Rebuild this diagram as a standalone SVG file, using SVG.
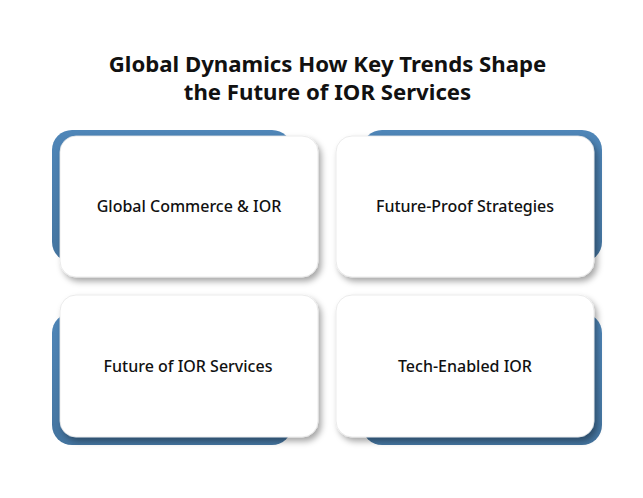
<svg xmlns="http://www.w3.org/2000/svg" width="643" height="498" viewBox="0 0 643 498">
<defs>
<filter id="sh" x="-10%" y="-10%" width="125%" height="130%">
<feDropShadow dx="3" dy="4" stdDeviation="3" flood-color="#000" flood-opacity="0.35"/>
</filter>
<linearGradient id="bl" x1="0" y1="0" x2="0" y2="1">
<stop offset="0" stop-color="#4f86b8"/>
<stop offset="1" stop-color="#44749f"/>
</linearGradient>
</defs>
<style>
.back{fill:url(#bl);}
.card{fill:#ffffff;stroke:#e6e6e6;stroke-width:0.8;filter:url(#sh);}
.lbl{font-family:"Noto Sans","Open Sans","Liberation Sans",sans-serif;font-weight:500;font-size:16px;fill:#111;text-anchor:middle;}
.title{font-family:"Noto Sans","Open Sans","Liberation Sans",sans-serif;font-weight:700;font-size:22.2px;fill:#111;text-anchor:middle;}
</style>
<rect width="643" height="498" fill="#ffffff"/>
<g id="title">
<text class="title" x="327.5" y="72">Global Dynamics How Key Trends Shape</text>
<text class="title" x="327.5" y="100">the Future of IOR Services</text>
</g>
<g id="node1">
<rect class="back" x="52" y="130" width="240" height="132" rx="20"/>
<rect class="card" x="60" y="136" width="258" height="141" rx="16"/>
<text class="lbl" x="189" y="212">Global Commerce &amp; IOR</text>
</g>
<g id="node2">
<rect class="back" x="362" y="130" width="240" height="132" rx="20"/>
<rect class="card" x="336" y="136" width="258" height="141" rx="16"/>
<text class="lbl" x="465" y="212">Future-Proof Strategies</text>
</g>
<g id="node3">
<rect class="back" x="52" y="313" width="240" height="132" rx="20"/>
<rect class="card" x="60" y="295" width="258" height="142" rx="16"/>
<text class="lbl" x="188" y="372">Future of IOR Services</text>
</g>
<g id="node4">
<rect class="back" x="362" y="313" width="240" height="132" rx="20"/>
<rect class="card" x="336" y="295" width="258" height="142" rx="16"/>
<text class="lbl" x="465" y="372">Tech-Enabled IOR</text>
</g>
<g id="connectors"></g>
</svg>
